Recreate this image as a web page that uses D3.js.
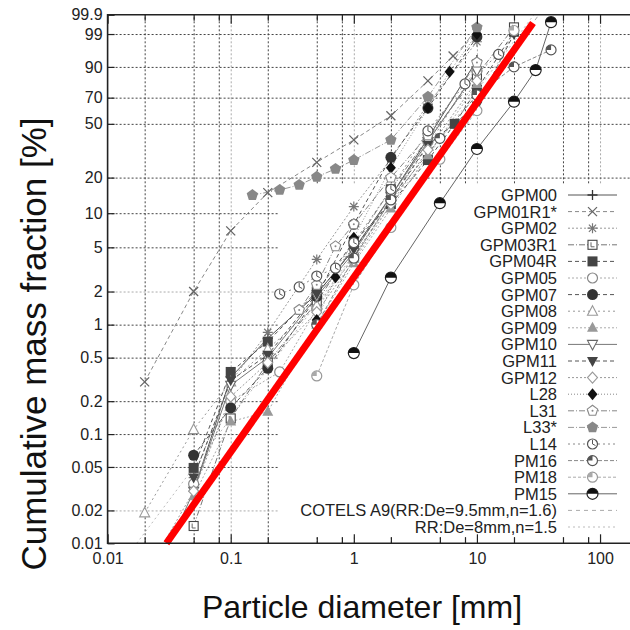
<!DOCTYPE html>
<html>
<head>
<meta charset="utf-8">
<script src="https://cdn.jsdelivr.net/npm/d3@7"></script>
<style>
  body { margin: 0; background: #fff; }
  text { font-family: "Liberation Sans", Arial, sans-serif; }
</style>
</head>
<body>
<svg id="chart" width="630" height="630"></svg>
<script>
// ---- Tick values and labels ----
const yTickValues = [0.01, 0.02, 0.05, 0.1, 0.2, 0.5, 1, 2, 5, 10, 20, 50, 70, 90, 99, 99.9];
const yTickLabels = ["0.01", "0.02", "0.05", "0.1", "0.2", "0.5", "1", "2", "5", "10", "20", "50", "70", "90", "99", "99.9"];
const xDecades = [0.01, 0.1, 1, 10, 100];
const xDecadeLabels = ["0.01", "0.1", "1", "10", "100"];
const xMinorValues = [0.02, 0.05, 0.08, 0.2, 0.5, 0.8, 2, 5, 8, 20, 50, 80];

// ---- Measured size distributions: diameter [mm] and cumulative mass fraction [%] ----
const seriesNames = ["GPM00", "GPM01R1*", "GPM02", "GPM03R1", "GPM04R", "GPM05", "GPM07", "GPM08",
  "GPM09", "GPM10", "GPM11", "GPM12", "L28", "L31", "L33*", "L14", "PM16", "PM18", "PM15"];

const gpm00D = [0.05, 0.1, 0.2, 0.5, 1, 2, 4, 10];
const gpm00F = [0.03, 0.33, 0.75, 1.9, 4.8, 14, 40, 93];
const gpm01D = [0.02, 0.05, 0.1, 0.2, 0.5, 1, 2, 4, 6.4, 10];
const gpm01F = [0.3, 2, 7, 15, 26.5, 39, 56, 82, 94.5, 99.1];
const gpm02D = [0.05, 0.1, 0.2, 0.5, 1, 2, 4, 10];
const gpm02F = [0.04, 0.3, 0.85, 3.9, 11.4, 28, 65, 98];
const gpm03D = [0.05, 0.1, 0.2, 0.5, 1, 2, 4, 10, 20];
const gpm03F = [0.0144, 0.139, 0.45, 1.6, 5.2, 16, 40, 85.6, 99.5];
const gpm04D = [0.05, 0.1, 0.2, 0.5, 1, 2, 4, 6.6, 10, 20];
const gpm04F = [0.049, 0.37, 0.7, 2.0, 5.6, 12, 27.6, 50, 76, 99.2];
const gpm05D = [0.05, 0.1, 0.25, 0.5, 1, 2, 4, 10];
const gpm05F = [0.035, 0.2, 0.37, 1.4, 4.2, 13, 38, 88];
const gpm07D = [0.05, 0.1, 0.2, 0.5, 1, 2, 4, 10];
const gpm07F = [0.064, 0.174, 0.4, 1.8, 8.0, 29, 62, 98.7];
const gpm08D = [0.02, 0.05, 0.1, 0.2, 0.5, 1, 2, 4, 10];
const gpm08F = [0.019, 0.11, 0.3, 0.6, 1.5, 4.0, 13, 35, 90];
const gpm09D = [0.05, 0.1, 0.2, 0.5, 1, 2, 4, 10];
const gpm09F = [0.027, 0.13, 0.16, 1.0, 3.6, 11, 30, 80];
const gpm10D = [0.02, 0.05, 0.1, 0.2, 0.5, 1, 2, 4, 10];
const gpm10F = [0.003, 0.03, 0.28, 0.5, 1.8, 4.5, 14, 38, 88];
const gpm11D = [0.05, 0.1, 0.2, 0.5, 1, 2, 4, 10, 20];
const gpm11F = [0.04, 0.31, 0.53, 1.9, 4.8, 13, 36, 64, 99];
const gpm12D = [0.02, 0.05, 0.1, 0.2, 0.5, 1, 2, 4, 10];
const gpm12F = [0.005, 0.03, 0.22, 0.45, 1.3, 3.8, 12, 33, 82];
const l28D = [0.5, 0.71, 1, 2, 4, 6, 10];
const l28F = [1.1, 2.7, 6.1, 24, 62, 87.5, 99];
const l31D = [0.36, 0.5, 0.71, 1, 2, 4, 10];
const l31F = [1.36, 2.3, 5.1, 8, 20, 42, 92];
const l33D = [0.15, 0.25, 0.36, 0.5, 0.71, 1, 2, 4, 10];
const l33F = [14.3, 15.8, 17.4, 20.3, 23.5, 27.6, 39, 70.7, 99.5];
const l14D = [0.25, 0.36, 0.5, 0.71, 1, 2, 4, 8, 15];
const l14F = [1.9, 2.2, 2.76, 3.25, 5.5, 16, 45, 80, 95];
const pm16D = [0.5, 1, 2, 5, 10, 20, 40];
const pm16F = [1.0, 4, 13, 40, 72, 90, 96.3];
const pm18D = [0.5, 1, 2, 5, 10, 20];
const pm18F = [0.34, 2.3, 7.5, 28, 60, 99.3];
const pm15D = [1, 2, 5, 10, 20, 30, 40];
const pm15F = [0.55, 2.67, 12.2, 33.5, 66.9, 88.4, 99.73];

// ---- Rosin-Rammler reference distributions (De [mm], n) ----
const rrNames = ["COTELS A9(RR:De=9.5mm,n=1.6)", "RR:De=8mm,n=1.5"];
const rrDe = [9.5, 8];
const rrN = [1.6, 1.5];
const highlightSpanF = [0.01, 99.7];   // extent of the bold COTELS A9 line [%]

// ---- Styles ----
const seriesD = [gpm00D, gpm01D, gpm02D, gpm03D, gpm04D, gpm05D, gpm07D, gpm08D, gpm09D, gpm10D,
  gpm11D, gpm12D, l28D, l31D, l33D, l14D, pm16D, pm18D, pm15D];
const seriesF = [gpm00F, gpm01F, gpm02F, gpm03F, gpm04F, gpm05F, gpm07F, gpm08F, gpm09F, gpm10F,
  gpm11F, gpm12F, l28F, l31F, l33F, l14F, pm16F, pm18F, pm15F];
const styles = [
  { marker: "plus",        stroke: "#555", dash: null },
  { marker: "cross",       stroke: "#888", dash: "4,3" },
  { marker: "star",        stroke: "#999", dash: "2,2" },
  { marker: "sqOpen",      stroke: "#777", dash: "6,2,1,2" },
  { marker: "sqFill",      stroke: "#555", dash: "4,3" },
  { marker: "circOpen",    stroke: "#aaa", dash: "2,2" },
  { marker: "circFill",    stroke: "#555", dash: "4,3" },
  { marker: "triOpen",     stroke: "#999", dash: "2,3" },
  { marker: "triFill",     stroke: "#aaa", dash: "2,2" },
  { marker: "triDownOpen", stroke: "#777", dash: null },
  { marker: "triDownFill", stroke: "#555", dash: "4,3" },
  { marker: "diaOpen",     stroke: "#999", dash: "2,2" },
  { marker: "diaFill",     stroke: "#888", dash: "1,2" },
  { marker: "pentOpen",    stroke: "#888", dash: "6,2,1,2" },
  { marker: "pentFill",    stroke: "#999", dash: "6,2,1,2" },
  { marker: "clock",       stroke: "#888", dash: "2,3" },
  { marker: "pm16",        stroke: "#888", dash: "4,2" },
  { marker: "pm18",        stroke: "#aaa", dash: "3,2" },
  { marker: "pm15",        stroke: "#666", dash: null }
];
const rrStyles = [
  { stroke: "#aaa", dash: "4,4" },
  { stroke: "#bbb", dash: "2,3" }
];

// ---- Scales: log diameter vs. Rosin-Rammler probability ----
const rrT = p => Math.log(-Math.log(1 - p / 100));
const plotL = 107.6, plotB = 543.3, plotT = 14.8, plotR = 637.1;
const x = d3.scaleLog().domain([0.01, 200]).range([plotL, plotR]);
const y = d3.scaleLinear().domain([rrT(0.01), rrT(99.9)]).range([plotB, plotT]);

const svg = d3.select("#chart");
svg.append("rect").attr("width", 630).attr("height", 630).attr("fill", "#fff");

svg.append("defs").append("clipPath").attr("id", "plotClip")
  .append("rect").attr("x", plotL).attr("y", plotT - 8).attr("width", plotR - plotL).attr("height", plotB - plotT + 8);

// ---- Grid ----
const grid = svg.append("g");
grid.append("g").attr("transform", `translate(0,${plotB})`)
  .call(d3.axisBottom(x).tickValues(xMinorValues.concat(xDecades.slice(1))).tickSize(-(plotB - plotT)).tickFormat(""))
  .call(g => g.select(".domain").remove())
  .call(g => g.selectAll("line")
    .attr("stroke", d => xDecades.includes(d) ? "#aaa" : "#444")
    .attr("stroke-dasharray", "2,2"));
grid.append("g").attr("transform", `translate(${plotL},0)`)
  .call(d3.axisLeft(y).tickValues(yTickValues.slice(1, -1).map(rrT)).tickSize(-(plotR - plotL)).tickFormat(""))
  .call(g => g.select(".domain").remove())
  .call(g => g.selectAll("line")
    .attr("stroke", (d, i) => (yTickLabels[i + 1] === "2" || yTickLabels[i + 1] === "0.02") ? "#aaa" : "#444")
    .attr("stroke-dasharray", "2,2"));

// Opaque key background
const keyBox = { x0: 278, y0: 185, x1: 630, y1: 537 };
svg.append("rect").attr("x", keyBox.x0).attr("y", keyBox.y0)
  .attr("width", keyBox.x1 - keyBox.x0).attr("height", keyBox.y1 - keyBox.y0).attr("fill", "#fff");

// ---- Marker shapes ----
function drawMarker(g, type) {
  const pent = r => d3.range(5).map(k => {
    const a = -Math.PI / 2 + k * 2 * Math.PI / 5;
    return [r * Math.cos(a), r * Math.sin(a)];
  });
  const poly = pts => "M" + pts.map(p => p.join(",")).join("L") + "Z";
  switch (type) {
    case "plus":
      g.append("path").attr("d", "M-5,0H5M0,-5V5").attr("stroke", "#333").attr("stroke-width", 1.3); break;
    case "cross":
      g.append("path").attr("d", "M-4.5,-4.5L4.5,4.5M-4.5,4.5L4.5,-4.5").attr("stroke", "#666").attr("stroke-width", 1.3); break;
    case "star":
      g.append("path").attr("d", "M-5,0H5M0,-5V5M-3.6,-3.6L3.6,3.6M-3.6,3.6L3.6,-3.6").attr("stroke", "#777").attr("stroke-width", 1.2); break;
    case "sqOpen":
      g.append("rect").attr("x", -4.5).attr("y", -4.5).attr("width", 9).attr("height", 9)
        .attr("fill", "#fff").attr("stroke", "#444").attr("stroke-width", 1.1);
      g.append("path").attr("d", "M-1.5,-2.5V2H2").attr("stroke", "#666").attr("fill", "none"); break;
    case "sqFill":
      g.append("rect").attr("x", -5).attr("y", -5).attr("width", 10).attr("height", 10).attr("fill", "#444"); break;
    case "circOpen":
      g.append("circle").attr("r", 5).attr("fill", "#fff").attr("stroke", "#888").attr("stroke-width", 1.2); break;
    case "circFill":
      g.append("circle").attr("r", 5.5).attr("fill", "#333"); break;
    case "triOpen":
      g.append("path").attr("d", "M0,-5.5L5,4L-5,4Z").attr("fill", "#fff").attr("stroke", "#999").attr("stroke-width", 1.1); break;
    case "triFill":
      g.append("path").attr("d", "M0,-6L5.5,4L-5.5,4Z").attr("fill", "#999"); break;
    case "triDownOpen":
      g.append("path").attr("d", "M0,5.5L5,-4L-5,-4Z").attr("fill", "#fff").attr("stroke", "#666").attr("stroke-width", 1.1); break;
    case "triDownFill":
      g.append("path").attr("d", "M0,6L5.5,-4L-5.5,-4Z").attr("fill", "#444"); break;
    case "diaOpen":
      g.append("path").attr("d", "M0,-5.5L5,0L0,5.5L-5,0Z").attr("fill", "#fff").attr("stroke", "#999").attr("stroke-width", 1.1); break;
    case "diaFill":
      g.append("path").attr("d", "M0,-6L5,0L0,6L-5,0Z").attr("fill", "#111"); break;
    case "pentOpen":
      g.append("path").attr("d", poly(pent(5.5))).attr("fill", "#fff").attr("stroke", "#888").attr("stroke-width", 1.1);
      g.append("circle").attr("r", 1).attr("fill", "#888"); break;
    case "pentFill":
      g.append("path").attr("d", poly(pent(6))).attr("fill", "#888"); break;
    case "clock":
      g.append("circle").attr("r", 5).attr("fill", "#fff").attr("stroke", "#555").attr("stroke-width", 1.2);
      g.append("path").attr("d", "M0,0V-4M0,0L3,1.5").attr("stroke", "#555").attr("fill", "none"); break;
    case "pm16":
      g.append("circle").attr("r", 5).attr("fill", "#fff").attr("stroke", "#555").attr("stroke-width", 1.2);
      g.append("path").attr("d", "M0,0L0,-5A5,5 0 0 0 -5,0Z").attr("fill", "#555"); break;
    case "pm18":
      g.append("circle").attr("r", 5).attr("fill", "#fff").attr("stroke", "#999").attr("stroke-width", 1.2);
      g.append("path").attr("d", "M0,0L0,-5A5,5 0 0 0 -5,0Z").attr("fill", "#aaa"); break;
    case "pm15":
      g.append("circle").attr("r", 5.5).attr("fill", "#fff").attr("stroke", "#222").attr("stroke-width", 1.2);
      g.append("path").attr("d", "M-5.5,0A5.5,5.5 0 0 1 5.5,0Z").attr("fill", "#111"); break;
  }
}

// ---- Rosin-Rammler lines (straight on this paper) ----
const rrD = (p, De, n) => De * Math.pow(-Math.log(1 - p / 100), 1 / n);
const plot = svg.append("g").attr("clip-path", "url(#plotClip)");
const line = d3.line().x(p => x(p[0])).y(p => y(rrT(p[1])));
rrNames.forEach((nm, i) => {
  const pts = [0.01, 99.9].map(p => [rrD(p, rrDe[i], rrN[i]), p]);
  plot.append("path").attr("d", line(pts)).attr("fill", "none")
    .attr("stroke", rrStyles[i].stroke).attr("stroke-width", 1).attr("stroke-dasharray", rrStyles[i].dash);
});

// ---- Measured series ----
seriesNames.forEach((nm, i) => {
  const pts = seriesD[i].map((d, k) => [d, seriesF[i][k]]);
  plot.append("path").attr("d", line(pts)).attr("fill", "none")
    .attr("stroke", styles[i].stroke).attr("stroke-width", 1)
    .attr("stroke-dasharray", styles[i].dash);
});
const markerClip = svg.append("g").attr("clip-path", "url(#plotClip)");
seriesNames.forEach((nm, i) => {
  seriesD[i].forEach((d, k) => {
    if (seriesF[i][k] < 0.01) return;   // below the paper's range
    const g = markerClip.append("g").attr("transform", `translate(${x(d)},${y(rrT(seriesF[i][k]))})`);
    drawMarker(g, styles[i].marker);
  });
});

// Bold COTELS A9 fit line
const hl = highlightSpanF.map(p => [rrD(p, rrDe[0], rrN[0]), p]);
svg.append("path").attr("d", line(hl)).attr("fill", "none")
  .attr("stroke", "#ff0000").attr("stroke-width", 7);

// ---- Axes and frame ----
const axisStyle = g => {
  g.select(".domain").remove();
  g.selectAll("line").attr("stroke", "#222").attr("stroke-width", 1.2);
  g.selectAll("text").attr("font-family", "Liberation Sans, Arial, sans-serif").attr("font-size", 16).attr("fill", "#222");
};
svg.append("g").attr("transform", `translate(0,${plotB})`)
  .call(d3.axisBottom(x).tickValues(xDecades).tickSize(-9).tickPadding(9).tickFormat((d, i) => xDecadeLabels[i]))
  .call(axisStyle);
svg.append("g").attr("transform", `translate(0,${plotB})`)
  .call(d3.axisBottom(x).tickValues(xMinorValues).tickSize(-6).tickFormat(""))
  .call(axisStyle);
svg.append("g").attr("transform", `translate(0,${plotT})`)
  .call(d3.axisTop(x).tickValues(xDecades).tickSize(-9).tickFormat(""))
  .call(axisStyle);
svg.append("g").attr("transform", `translate(0,${plotT})`)
  .call(d3.axisTop(x).tickValues(xMinorValues).tickSize(-6).tickFormat(""))
  .call(axisStyle);
svg.append("g").attr("transform", `translate(${plotL},0)`)
  .call(d3.axisLeft(y).tickValues(yTickValues.map(rrT)).tickSize(-7).tickPadding(5).tickFormat((d, i) => yTickLabels[i]))
  .call(axisStyle);

svg.append("path")
  .attr("d", `M${plotR},${plotT}H${plotL}V${plotB}H${plotR}`)
  .attr("fill", "none").attr("stroke", "#222").attr("stroke-width", 1.6);

// ---- Axis titles ----
svg.append("text").attr("x", 362).attr("y", 618).attr("text-anchor", "middle")
  .attr("font-size", 32).attr("fill", "#111").text("Particle diameter [mm]");
svg.append("text").attr("transform", "translate(46,344) rotate(-90)").attr("text-anchor", "middle")
  .attr("font-size", 35).attr("fill", "#111").text("Cumulative mass fraction [%]");

// ---- Key ----
const key = svg.append("g");
const keyRows = seriesNames.concat(rrNames);
keyRows.forEach((nm, i) => {
  const ry = 195 + i * 16.6;
  key.append("text").attr("x", 557).attr("y", ry).attr("dy", "0.36em").attr("text-anchor", "end")
    .attr("font-size", 16.5).attr("fill", "#222").text(nm);
  const st = i < seriesNames.length ? styles[i] : rrStyles[i - seriesNames.length];
  key.append("line").attr("x1", 568).attr("x2", 617).attr("y1", ry).attr("y2", ry)
    .attr("stroke", st.stroke).attr("stroke-width", 1).attr("stroke-dasharray", st.dash);
  if (i < seriesNames.length) {
    drawMarker(key.append("g").attr("transform", `translate(592.5,${ry})`), styles[i].marker);
  }
});
</script>
</body>
</html>
